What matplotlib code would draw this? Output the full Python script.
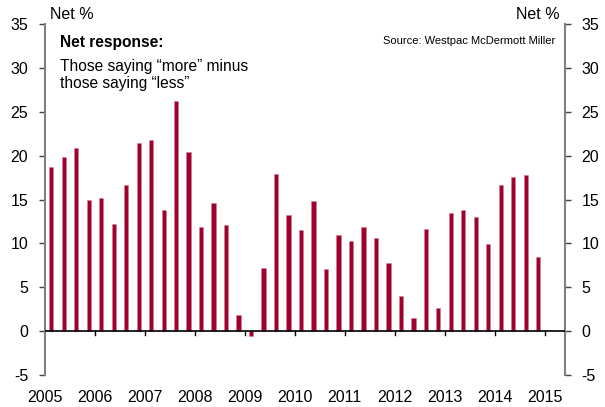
import numpy as np
import matplotlib
matplotlib.use("Agg")
import matplotlib.pyplot as plt

plt.rcParams['font.family'] = ['Liberation Sans', 'DejaVu Sans']

# quarterly net response, 2005 Q1 .. 2014 Q4
years = list(range(2005, 2016))
net = [18.7, 19.9, 20.9, 14.9,
       15.2, 12.2, 16.6, 21.4,
       21.8, 13.8, 26.2, 20.4,
       11.9, 14.6, 12.1, 1.8,
       -0.6, 7.2, 17.9, 13.2,
       11.5, 14.8, 7.1, 11.0,
       10.3, 11.9, 10.6, 7.8,
       4.0, 1.5, 11.6, 2.6,
       13.5, 13.8, 13.0, 9.9,
       16.7, 17.6, 17.8, 8.5]
yticks = [-5, 0, 5, 10, 15, 20, 25, 30, 35]

bar_col = '#a0002c'
spine_col = '#808080'

x = 2005.125 + 0.25 * np.arange(len(net))

fig = plt.figure(figsize=(6.05, 4.07), dpi=100)
ax = fig.add_axes([45/605, 1 - 375/407, 520/605, 351/407])

ax.bar(x, net, width=0.085, color=bar_col, edgecolor='#d08090', linewidth=0.4, zorder=2)

ax.set_xlim(2005.0, 2015.41)
ax.set_ylim(-5, 35)

# zero line with year ticks
ax.axhline(0, color='black', lw=1.2, zorder=3)
for yr in years[1:]:
    ax.plot([yr, yr], [0, -0.45], color='black', lw=1.0, zorder=3, clip_on=False)

ax.set_xticks(years)
ax.set_xticklabels([str(y) for y in years], fontsize=11.5)
ax.tick_params(axis='x', length=0, pad=11)

ax.set_yticks(yticks)
ax.set_yticklabels([str(t) for t in yticks], fontsize=11.5)
ax.tick_params(axis='y', direction='out', length=4, width=1, color='#404040',
               left=True, right=True, labelleft=True, labelright=True, pad=8)

for s in ['top', 'bottom']:
    ax.spines[s].set_visible(False)
for s in ['left', 'right']:
    ax.spines[s].set_color(spine_col)
    ax.spines[s].set_linewidth(1.5)

# headers and notes
fig.text(50/605, 1 - 19/407, 'Net %', fontsize=11.5, ha='left', va='baseline')
fig.text(560/605, 1 - 19/407, 'Net %', fontsize=11.5, ha='right', va='baseline')
fig.text(60/605, 1 - 47/407, 'Net response:', fontsize=11.2, fontweight='bold', ha='left', va='baseline')
fig.text(60/605, 1 - 71/407, 'Those saying \u201cmore\u201d minus', fontsize=11.2, ha='left', va='baseline')
fig.text(60/605, 1 - 88/407, 'those saying \u201cless\u201d', fontsize=11.2, ha='left', va='baseline')
fig.text(555/605, 1 - 44/407, 'Source: Westpac McDermott Miller', fontsize=8, ha='right', va='baseline')

fig.savefig('out.png', dpi=100)
